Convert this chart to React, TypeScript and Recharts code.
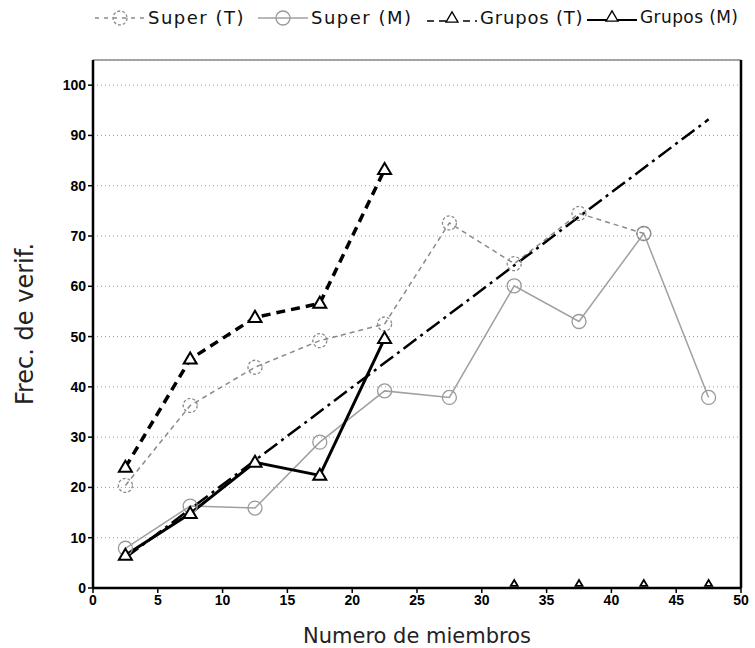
import { LineChart, Line, XAxis, YAxis, CartesianGrid, ReferenceLine } from 'recharts'

// group sizes (bin centres) on the x axis
const groupSizes = [2.5, 7.5, 12.5, 17.5, 22.5, 27.5, 32.5, 37.5, 42.5, 47.5]
const xTicks = [0, 5, 10, 15, 20, 25, 30, 35, 40, 45, 50]
const yTicks = [0, 10, 20, 30, 40, 50, 60, 70, 80, 90, 100]

const superT = [20.4, 36.3, 43.9, 49.2, 52.5, 72.6, 64.5, 74.5, 70.5]
const superM = [7.9, 16.3, 15.9, 29, 39.2, 37.9, 60.1, 53, 70.5, 37.9]
const gruposT = [24, 45.5, 53.8, 56.6, 83.2]
const gruposM = [6.5, 14.8, 25, 22.4, 49.6]
// empty bins drawn on the axis
const emptyX = [32.5, 37.5, 42.5, 47.5]
const emptyY = [0, 0, 0, 0]
// fitted trend
const trendX = [2.5, 47.5]
const trendY = [6, 93.2]

const legendLabels = ['Super (T)', 'Super (M)', 'Grupos (T)', 'Grupos (M)']
const legendLeft = [95, 258, 427, 587]

const toPoints = (xs: number[], ys: number[]) => ys.map((y, i) => ({ x: xs[i], y }))

const tickStyle = { fill: '#000', fontSize: 14, fontWeight: 700, fontFamily: 'Liberation Sans, Arial, sans-serif' }

function Tri({ cx, cy, s = 6.5, sw = 2 }: { cx: number; cy: number; s?: number; sw?: number }) {
  if (cx == null || cy == null) return null
  const h = s * 1.7
  return (
    <path
      d={`M${cx},${cy - h * 0.6} L${cx + s},${cy + h * 0.4} L${cx - s},${cy + h * 0.4} Z`}
      fill="#fff"
      stroke="#000"
      strokeWidth={sw}
    />
  )
}

function Circ({ cx, cy, stroke, dash }: { cx: number; cy: number; stroke: string; dash?: string }) {
  if (cx == null || cy == null) return null
  return <circle cx={cx} cy={cy} r={7} fill="none" stroke={stroke} strokeWidth={1.3} strokeDasharray={dash} />
}

function LegendSymbol({ idx }: { idx: number }) {
  const w = 50
  return (
    <svg width={w} height={20} style={{ marginRight: 3, flex: 'none' }}>
      {idx === 0 && (
        <>
          <line x1={0} y1={10} x2={w} y2={10} stroke="#8a8a8a" strokeWidth={1.3} strokeDasharray="4 5" />
          <Circ cx={w / 2} cy={10} stroke="#8a8a8a" dash="3 2" />
        </>
      )}
      {idx === 1 && (
        <>
          <line x1={0} y1={10} x2={w} y2={10} stroke="#a0a0a0" strokeWidth={1.3} />
          <Circ cx={w / 2} cy={10} stroke="#999" />
        </>
      )}
      {idx === 2 && (
        <>
          <line x1={0} y1={13} x2={w} y2={13} stroke="#000" strokeWidth={1.5} strokeDasharray="7 5" />
          <Tri cx={w / 2} cy={10} s={6} sw={1.3} />
        </>
      )}
      {idx === 3 && (
        <>
          <line x1={0} y1={13} x2={w} y2={13} stroke="#000" strokeWidth={2} />
          <Tri cx={w / 2} cy={10} s={6} sw={1.3} />
        </>
      )}
    </svg>
  )
}

export default function App() {
  return (
    <div style={{ position: 'absolute', left: 0, top: 0, width: 755, height: 648, background: '#fff' }}>
      {legendLabels.map((lab, i) => (
        <div
          key={lab}
          style={{
            position: 'absolute',
            left: legendLeft[i],
            top: 7,
            display: 'flex',
            alignItems: 'center',
            fontFamily: 'DejaVu Sans, sans-serif',
            fontSize: i === 3 ? 17 : 18,
            letterSpacing: i === 3 ? 0.4 : i === 2 ? 0.8 : 1.5,
            color: '#111',
            whiteSpace: 'nowrap',
          }}
        >
          <LegendSymbol idx={i} />
          <span>{lab}</span>
        </div>
      ))}
      <LineChart width={755} height={648} margin={{ top: 60, right: 14, bottom: 0, left: 0 }}>
        <CartesianGrid vertical={false} stroke="#9a9a9a" strokeDasharray="1 3" />
        <XAxis
          type="number"
          dataKey="x"
          domain={[0, 50]}
          ticks={xTicks}
          allowDataOverflow
          height={60}
          axisLine={{ stroke: '#000', strokeWidth: 2.5 }}
          tickLine={{ stroke: '#000', strokeWidth: 1.5 }}
          tickSize={5}
          tick={tickStyle}
          label={{
            value: 'Numero de miembros',
            position: 'insideBottom',
            offset: 5,
            style: { fill: '#222', fontSize: 21, fontFamily: 'DejaVu Sans, sans-serif' },
          }}
        />
        <YAxis
          type="number"
          domain={[0, 105]}
          ticks={yTicks}
          allowDataOverflow
          width={93}
          axisLine={{ stroke: '#000', strokeWidth: 2.5 }}
          tickLine={{ stroke: '#000', strokeWidth: 1.5 }}
          tickSize={5}
          tick={tickStyle}
          label={{
            value: 'Frec. de verif.',
            angle: -90,
            position: 'insideLeft',
            offset: 24,
            style: { fill: '#222', fontSize: 24, fontFamily: 'DejaVu Sans, sans-serif', textAnchor: 'middle' },
          }}
        />
        <ReferenceLine y={105} stroke="#888" strokeWidth={1.5} />
        <ReferenceLine x={50} stroke="#000" strokeWidth={2.5} />
        <Line
          data={toPoints(groupSizes, superM)}
          dataKey="y"
          stroke="#a0a0a0"
          strokeWidth={1.5}
          isAnimationActive={false}
          dot={(p: any) => <Circ key={`sm${p.index}`} cx={p.cx} cy={p.cy} stroke="#999" />}
        />
        <Line
          data={toPoints(groupSizes, superT)}
          dataKey="y"
          stroke="#8a8a8a"
          strokeWidth={1.5}
          strokeDasharray="5 4"
          isAnimationActive={false}
          dot={(p: any) => <Circ key={`st${p.index}`} cx={p.cx} cy={p.cy} stroke="#8a8a8a" dash="3 2" />}
        />
        <Line
          data={toPoints(trendX, trendY)}
          dataKey="y"
          stroke="#000"
          strokeWidth={2.5}
          strokeDasharray="16 5 3 5"
          dot={false}
          isAnimationActive={false}
        />
        <Line
          data={toPoints(groupSizes, gruposM)}
          dataKey="y"
          stroke="#000"
          strokeWidth={3}
          isAnimationActive={false}
          dot={(p: any) => <Tri key={`gm${p.index}`} cx={p.cx} cy={p.cy} />}
        />
        <Line
          data={toPoints(groupSizes, gruposT)}
          dataKey="y"
          stroke="#000"
          strokeWidth={3.5}
          strokeDasharray="9 6"
          isAnimationActive={false}
          dot={(p: any) => <Tri key={`gt${p.index}`} cx={p.cx} cy={p.cy} />}
        />
        <Line
          data={toPoints(emptyX, emptyY)}
          dataKey="y"
          stroke="none"
          isAnimationActive={false}
          dot={(p: any) => <Tri key={`e${p.index}`} cx={p.cx} cy={p.cy - 4.5} s={3.5} sw={1.8} />}
        />
      </LineChart>
    </div>
  )
}
